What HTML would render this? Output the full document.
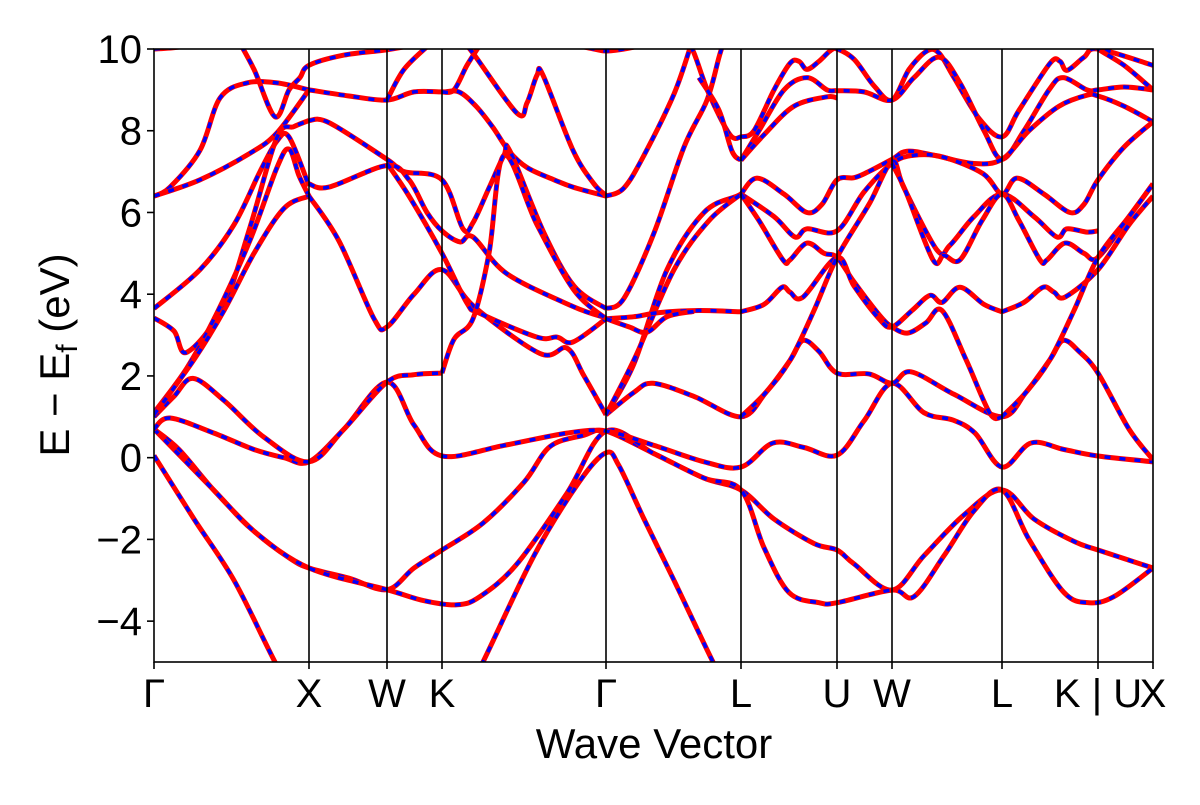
<!DOCTYPE html>
<html><head><meta charset="utf-8"><style>
html,body{margin:0;padding:0;background:#fff;}
svg text{font-family:"Liberation Sans",sans-serif;fill:#000;}
</style></head><body>
<svg id="chart" width="1200" height="800" viewBox="0 0 1200 800" xmlns="http://www.w3.org/2000/svg">
<defs><clipPath id="plotClip"><rect x="154" y="49" width="999" height="613"/></clipPath></defs>
<rect width="1200" height="800" fill="#fff"/>
<g id="bands" clip-path="url(#plotClip)"></g>
<g id="vlines"></g>
<rect x="154" y="49" width="999" height="613" fill="none" stroke="#000" stroke-width="1.6"/>
<g id="yticks"></g>
<g id="xticks"></g>
<text x="654" y="758" font-size="42" text-anchor="middle">Wave Vector</text>
<text transform="translate(69,355) rotate(-90)" font-size="42" text-anchor="middle">E − E<tspan font-size="30" dy="8">f</tspan><tspan dy="-8"> (eV)</tspan></text>
</svg>
<script>
const kTicks = [0,155,233,288,452,587,683,738,848,944,999];
const kLabels = ["Γ","X","W","K","Γ","L","U","W","L","K | U","X"];
const yTicks = [-4,-2,0,2,4,6,8,10];

// band traces: [k, energy(eV)]
const bandA = [[0,0.05],[40,-1.5],[80,-3],[121,-5],[155,-6.5],[233,-8],[288,-7],[329,-5],[380,-2.4],[425,-0.6],[452,0.12],[465,-0.2],[490,-1.5],[520,-3.0],[559,-5],[587,-6.3],[683,-8],[738,-8],[848,-6],[944,-8],[999,-8]];
const bandB = [[0,0.7],[25,0.2],[60,-0.8],[100,-1.8],[135,-2.45],[155,-2.7],[195,-2.95],[233,-3.23],[260,-2.7],[288,-2.26],[329,-1.6],[370,-0.6],[396,0.27],[430,0.55],[452,0.65],[500,0.1],[550,-0.5],[587,-0.79],[620,-1.5],[660,-2.1],[683,-2.26],[700,-2.6],[738,-3.24],[770,-2.4],[810,-1.4],[848,-0.79],[880,-1.5],[920,-2.05],[944,-2.26],[999,-2.7]];
const bandC = [[0,0.7],[60,-0.8],[100,-1.8],[155,-2.7],[233,-3.23],[270,-3.5],[303,-3.6],[326,-3.4],[363,-2.6],[413,-0.87],[452,0.65],[500,0.1],[550,-0.5],[587,-0.79],[610,-2.2],[635,-3.3],[665,-3.55],[683,-3.55],[738,-3.24],[760,-3.4],[790,-2.4],[820,-1.3],[848,-0.79],[875,-2.0],[910,-3.3],[935,-3.55],[960,-3.4],[999,-2.7]];
const bandD = [[0,0.7],[16,0.97],[60,0.6],[100,0.2],[130,0],[155,-0.1],[190,0.7],[233,1.85],[260,0.8],[288,0.04],[350,0.3],[413,0.6],[452,0.65],[500,0.3],[550,-0.1],[587,-0.23],[619,0.36],[650,0.25],[683,0.06],[710,0.9],[738,1.82],[770,1.1],[799,0.92],[821,0.6],[848,-0.23],[877,0.36],[910,0.2],[944,0.04],[999,-0.1]];
const bandE = [[0,1.0],[20,1.5],[39,1.94],[70,1.4],[110,0.5],[155,-0.1],[190,0.7],[233,1.85],[260,2.03],[288,2.07]];
const bandE2 = [[452,1.05],[480,1.6],[499,1.82],[540,1.5],[587,1.0],[612,1.6],[636,2.38],[649,2.87],[665,2.6],[683,2.07],[715,2.05],[738,1.82],[757,2.1],[800,1.55],[848,1.0],[872,1.6],[896,2.4],[909,2.87],[925,2.6],[944,2.07],[975,0.7],[999,-0.05]];
const gxA = [[0,6.4],[16,6.62],[46,7.52],[66,8.8],[93,9.17],[123,9.17],[155,9.0]];
const gxB = [[0,6.4],[46,6.8],[96,7.45],[123,7.95],[155,9.0]];
const gxC = [[0,3.65],[46,4.6],[80,5.7],[106,7.0],[123,7.75],[135,7.85],[155,6.65]];
const gxD = [[0,3.42],[20,3.1],[33,2.58],[69,3.68],[96,5.64],[123,7.84],[140,8.1],[155,8.25]];
const gxE = [[0,1.1],[33,2.2],[63,3.54],[96,5.32],[123,7.1],[135,7.55],[145,6.9],[155,6.4]];
const gxF = [[0,1.05],[40,2.4],[70,3.6],[100,5.0],[130,6.1],[155,6.4]];
const gxTop = [[80,10.4],[100,9.5],[121,8.34],[135,9.0],[146,9.3],[155,9.6],[190,9.85],[233,9.98],[260,10.1]];
const gammaTop = [[0,10.0],[25,10.05],[50,10.2]];
const xwA = [[155,9.0],[195,8.85],[233,8.75],[260,8.95],[288,8.95],[305,8.95],[322,8.6],[339,8.08],[355,7.5],[373,7.1],[400,6.8],[419,6.62],[452,6.4]];
const xwB = [[155,8.25],[175,8.2],[233,7.3],[250,7.0],[288,6.8],[309,5.6],[319,5.75],[335,6.6],[350,7.4],[356,7.5],[390,5.5],[420,4.2],[452,3.65]];
const xwC = [[155,6.7],[175,6.62],[233,7.15],[255,6.8],[273,6.0],[288,5.55],[306,5.28],[319,5.4],[353,4.5],[419,3.7],[452,3.42]];
const xwD = [[155,6.4],[185,5.3],[220,3.4],[233,3.2],[260,4.0],[288,4.6],[320,3.7],[386,2.55],[413,2.68],[430,2.0],[452,1.05]];
const wkA = [[233,7.2],[255,6.4],[288,5.0],[313,3.78],[326,3.53],[383,2.95],[403,2.95],[419,2.83],[452,3.4]];
const wkB = [[233,8.75],[250,9.5],[275,10.1]];
const kgSteep = [[288,2.07],[300,2.9],[319,3.4],[335,5.0],[350,7.4],[383,5.7],[420,4.1],[452,3.4]];
const kgTop = [[288,8.95],[300,9.0],[313,9.6],[326,10.1]];
const kgV = [[305,10.3],[319,9.9],[363,8.43],[373,8.68],[383,9.36],[389,9.36],[419,7.52],[440,6.7],[452,6.42]];
const gammaArch = [[420,10.1],[440,10.0],[452,9.95],[470,10.0],[490,10.1]];
const glA = [[452,6.4],[470,6.6],[490,7.4],[520,8.9],[537,10.1]];
const glB = [[452,3.65],[470,3.9],[500,5.5],[530,7.6],[553,8.75],[565,9.8],[570,10.2]];
const glC = [[530,10.4],[540,9.9],[555,8.9],[576,7.9],[587,7.85]];
const glD = [[545,9.3],[565,8.5],[578,7.5],[587,7.28]];
const glE = [[452,1.05],[480,2.3],[513,4.6],[550,6.0],[583,6.4],[587,6.45]];
const glF = [[452,1.05],[482,2.5],[520,4.6],[555,5.8],[587,6.45]];
const glG = [[452,3.4],[480,3.45],[505,3.55],[545,3.6],[587,3.57]];
const glH = [[452,3.4],[475,3.2],[493,3.07],[513,3.45],[540,3.58]];
const luA = [[587,7.85],[600,8.0],[620,9.0],[636,9.65],[645,9.7],[653,9.5],[665,9.7],[676,9.95],[683,10.0],[700,9.75],[720,9.1],[738,8.75],[755,9.5],[773,9.95],[785,9.9],[800,9.3],[825,8.3],[848,7.85],[865,8.5],[896,9.65],[906,9.7],[913,9.48],[930,9.8],[944,10.0],[999,9.6]];
const luB = [[587,7.28],[605,8.0],[630,9.0],[653,9.3],[673,9.0],[683,8.98],[710,8.95],[738,8.75],[760,9.3],[785,9.8],[806,9.17],[830,8.0],[848,7.3],[870,8.0],[895,9.0],[909,9.3],[933,9.0],[944,9.0],[970,9.07],[999,9.0]];
const luC = [[587,7.28],[610,7.9],[640,8.6],[673,8.83],[683,8.8]];
const luD = [[587,6.45],[603,6.84],[630,6.45],[653,6.0],[668,6.2],[683,6.8],[700,6.85],[713,6.98],[738,7.3],[753,7.5],[780,7.4],[819,7.2],[848,7.3],[875,8.0],[905,8.6],[933,8.87],[944,8.85],[970,8.6],[999,8.22]];
const luE = [[587,6.45],[620,5.9],[641,5.4],[653,5.6],[683,5.55],[710,6.5],[738,7.2],[760,7.4],[790,7.35],[829,6.95],[848,6.45],[863,6.84],[890,6.45],[916,6.0],[930,6.2],[944,6.8],[970,7.6],[999,8.22]];
const luF = [[587,6.45],[605,5.8],[629,4.84],[636,4.84],[653,5.25],[670,5.0],[683,4.9],[700,4.3],[725,3.5],[738,3.2],[754,3.05],[772,3.3],[788,3.6],[812,2.4],[836,1.08],[848,1.0]];
const luG = [[587,3.57],[610,3.75],[628,4.17],[636,4.05],[649,3.93],[683,4.9],[700,4.2],[725,3.4],[738,3.2],[758,3.6],[776,3.97],[788,3.8],[806,4.17],[830,3.75],[848,3.57]];
const luSteep = [[587,1.0],[612,1.6],[636,2.38],[660,3.6],[683,4.9],[715,6.2],[738,7.25],[750,6.6],[783,5.08],[796,5.2],[820,5.9],[848,6.45],[880,5.9],[903,5.4],[913,5.6],[933,5.52],[944,5.55]];
const wlA = [[738,7.2],[752,6.5],[779,4.84],[790,4.95],[806,4.84],[828,5.8],[848,6.45],[865,5.8],[886,4.84],[893,4.84],[911,5.25],[930,5.0],[944,4.9],[975,5.9],[999,6.7]];
const lkA = [[848,3.57],[870,3.8],[889,4.17],[900,4.05],[911,3.93],[944,4.6],[975,5.7],[999,6.4]];
const lkSteep = [[848,1.0],[872,1.6],[896,2.4],[920,3.6],[944,4.9],[975,5.9],[999,6.7]];
const kxA = [[930,10.3],[944,10.0],[970,9.6],[999,9.0]];

const traces = [bandA,bandB,bandC,bandD,bandE,bandE2,gxA,gxB,gxC,gxD,gxE,gxF,gxTop,gammaTop,xwA,xwB,xwC,xwD,wkA,wkB,kgSteep,kgTop,kgV,gammaArch,glA,glB,glC,glD,glE,glF,glG,glH,luA,luB,luC,luD,luE,luF,luG,luSteep,wlA,lkA,lkSteep,kxA];

const X0=154, X1=1153, Y0=662, Y1=49, EMIN=-5, EMAX=10, KMAX=999;
const xS = k => X0 + (k/KMAX)*(X1-X0);
const yS = e => Y0 - (e-EMIN)/(EMAX-EMIN)*(Y0-Y1);
const NS="http://www.w3.org/2000/svg";

function pathFor(pts){
  const p = pts.map(d=>[xS(d[0]),yS(d[1])]);
  let s = "M"+p[0][0].toFixed(1)+","+p[0][1].toFixed(1);
  for(let i=0;i<p.length-1;i++){
    const a=p[Math.max(0,i-1)], b=p[i], c=p[i+1], d=p[Math.min(p.length-1,i+2)];
    const c1=[b[0]+(c[0]-a[0])/6, b[1]+(c[1]-a[1])/6];
    const c2=[c[0]-(d[0]-b[0])/6, c[1]-(d[1]-b[1])/6];
    s+="C"+c1[0].toFixed(1)+","+c1[1].toFixed(1)+" "+c2[0].toFixed(1)+","+c2[1].toFixed(1)+" "+c[0].toFixed(1)+","+c[1].toFixed(1);
  }
  return s;
}
const gB=document.getElementById("bands");
traces.forEach((t,i)=>{
  const d=pathFor(t);
  const r=document.createElementNS(NS,"path");
  r.setAttribute("d",d);r.setAttribute("fill","none");r.setAttribute("stroke","#ff0000");r.setAttribute("stroke-width","5");r.setAttribute("stroke-linejoin","round");
  
  
  gB.appendChild(r);
  const b=document.createElementNS(NS,"path");
  b.setAttribute("d",d);b.setAttribute("fill","none");b.setAttribute("stroke","#0000ff");b.setAttribute("stroke-width","3.5");b.setAttribute("stroke-dasharray","6 9");
  
  
  gB.appendChild(b);
});
const gV=document.getElementById("vlines"), gX=document.getElementById("xticks");
kTicks.forEach((k,i)=>{
  const x=xS(k);
  if(i>0 && i<kTicks.length-1){
    const l=document.createElementNS(NS,"line");
    l.setAttribute("x1",x);l.setAttribute("x2",x);l.setAttribute("y1",Y1);l.setAttribute("y2",Y0);
    l.setAttribute("stroke","#000");l.setAttribute("stroke-width","1.6");
    
    
    gV.appendChild(l);
  }
  const tk=document.createElementNS(NS,"line");
  tk.setAttribute("x1",x);tk.setAttribute("x2",x);tk.setAttribute("y1",Y0);tk.setAttribute("y2",Y0+7);tk.setAttribute("stroke","#000");tk.setAttribute("stroke-width","1.6");
  
  
  gX.appendChild(tk);
  const t=document.createElementNS(NS,"text");
  t.setAttribute("x",x);t.setAttribute("y",707);t.setAttribute("font-size","40");t.setAttribute("text-anchor","middle");
  t.textContent=kLabels[i];
  
  
  gX.appendChild(t);
});
const gY=document.getElementById("yticks");
yTicks.forEach(v=>{
  const y=yS(v);
  const tk=document.createElementNS(NS,"line");
  tk.setAttribute("x1",X0-7);tk.setAttribute("x2",X0);tk.setAttribute("y1",y);tk.setAttribute("y2",y);tk.setAttribute("stroke","#000");tk.setAttribute("stroke-width","1.6");
  
  
  gY.appendChild(tk);
  const t=document.createElementNS(NS,"text");
  t.setAttribute("x",X0-12);t.setAttribute("y",y+14);t.setAttribute("font-size","40");t.setAttribute("text-anchor","end");
  t.textContent=(v<0?"−"+Math.abs(v):String(v));
  
  
  gY.appendChild(t);
});
</script>
</body></html>
